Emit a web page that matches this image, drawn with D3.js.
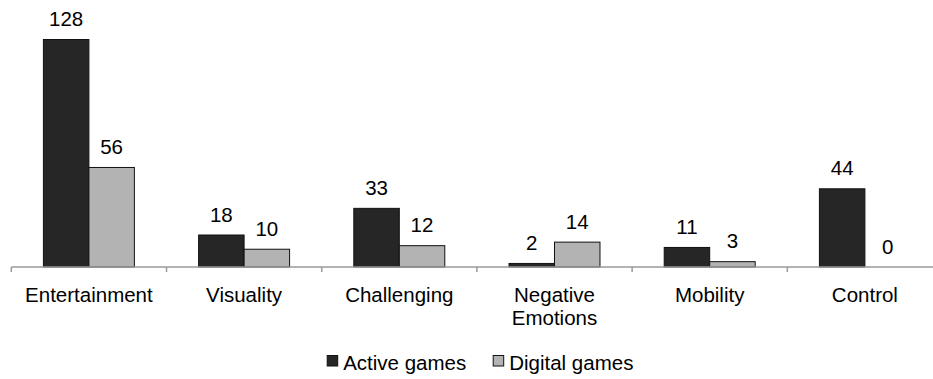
<!DOCTYPE html>
<html>
<head>
<meta charset="utf-8">
<script src="https://cdn.jsdelivr.net/npm/d3@7"></script>
<style>
  html, body { margin: 0; padding: 0; background: #fff; }
  svg { display: block; font-family: "Liberation Sans", Arial, sans-serif; }
</style>
</head>
<body>
<svg id="chart" width="933" height="379"></svg>
<script>
// Reasons reported for playing, by game type
const categories = ["Entertainment", "Visuality", "Challenging", "Negative Emotions", "Mobility", "Control"];
const seriesNames = ["Active games", "Digital games"];
const activeGames = [128, 18, 33, 2, 11, 44];
const digitalGames = [56, 10, 12, 14, 3, 0];
const seriesColors = ["#262626", "#b3b3b3"];

const seriesValues = [activeGames, digitalGames];
const rows = categories.map((c, i) => ({
  category: c,
  values: seriesNames.map((s, j) => ({ series: s, value: seriesValues[j][i], idx: j }))
}));

const svg = d3.select("#chart");
const baselineY = 267;
const maxBarY = 39.5;
const fontSize = 20.5;

const x0 = d3.scaleBand().domain(categories).range([11.3, 942.5]).padding(0);
const x1 = d3.scaleBand().domain(seriesNames).range([0, x0.bandwidth()])
  .paddingInner(0).paddingOuter(0.706);
const y = d3.scaleLinear().domain([0, 128]).range([baselineY, maxBarY]);

// Bars
const groups = svg.selectAll("g.cat").data(rows).join("g")
  .attr("class", "cat")
  .attr("transform", d => `translate(${x0(d.category)},0)`);

groups.selectAll("rect").data(d => d.values).join("rect")
  .attr("x", d => x1(d.series))
  .attr("y", d => y(d.value))
  .attr("width", x1.bandwidth())
  .attr("height", d => baselineY - y(d.value))
  .attr("fill", d => seriesColors[d.idx])
  .attr("stroke", d => d.value > 0 ? "#111" : "none")
  .attr("stroke-width", 1);

// Value labels
groups.selectAll("text.val").data(d => d.values).join("text")
  .attr("class", "val")
  .attr("x", d => x1(d.series) + x1.bandwidth() / 2)
  .attr("y", d => y(d.value) - 13.5)
  .attr("text-anchor", "middle")
  .attr("font-size", fontSize)
  .attr("fill", "#000")
  .text(d => d.value);

// Category axis
const axis = svg.append("g");
axis.append("line")
  .attr("x1", x0.range()[0]).attr("x2", x0.range()[1])
  .attr("y1", baselineY).attr("y2", baselineY)
  .attr("stroke", "#9a9a9a").attr("stroke-width", 1.5);

const boundaries = categories.map(c => x0(c)).concat([x0.range()[1]]);
axis.selectAll("line.tick").data(boundaries).join("line")
  .attr("class", "tick")
  .attr("x1", d => d).attr("x2", d => d)
  .attr("y1", baselineY).attr("y2", baselineY + 5)
  .attr("stroke", "#9a9a9a").attr("stroke-width", 1.5);

axis.selectAll("text.cat").data(categories).join("text")
  .attr("class", "cat")
  .attr("x", d => x0(d) + x0.bandwidth() / 2)
  .attr("y", 301.5)
  .attr("text-anchor", "middle")
  .attr("font-size", fontSize)
  .attr("fill", "#000")
  .each(function (d) {
    const words = d.split(" ");
    const t = d3.select(this);
    words.forEach((w, i) => {
      t.append("tspan")
        .attr("x", x0(d) + x0.bandwidth() / 2)
        .attr("dy", i === 0 ? 0 : 23)
        .text(w);
    });
  });

// Legend
const legendItems = [
  { name: seriesNames[0], color: seriesColors[0], x: 326.7 },
  { name: seriesNames[1], color: seriesColors[1], x: 492.7 }
];
const legend = svg.append("g");
const li = legend.selectAll("g").data(legendItems).join("g")
  .attr("transform", d => `translate(${d.x},0)`);
li.append("rect")
  .attr("x", 0.5).attr("y", 355.5)
  .attr("width", 10.5).attr("height", 10.5)
  .attr("fill", d => d.color)
  .attr("stroke", "#111").attr("stroke-width", 1);
li.append("text")
  .attr("x", 16.5).attr("y", 370)
  .attr("font-size", fontSize)
  .attr("fill", "#000")
  .text(d => d.name);
</script>
</body>
</html>
